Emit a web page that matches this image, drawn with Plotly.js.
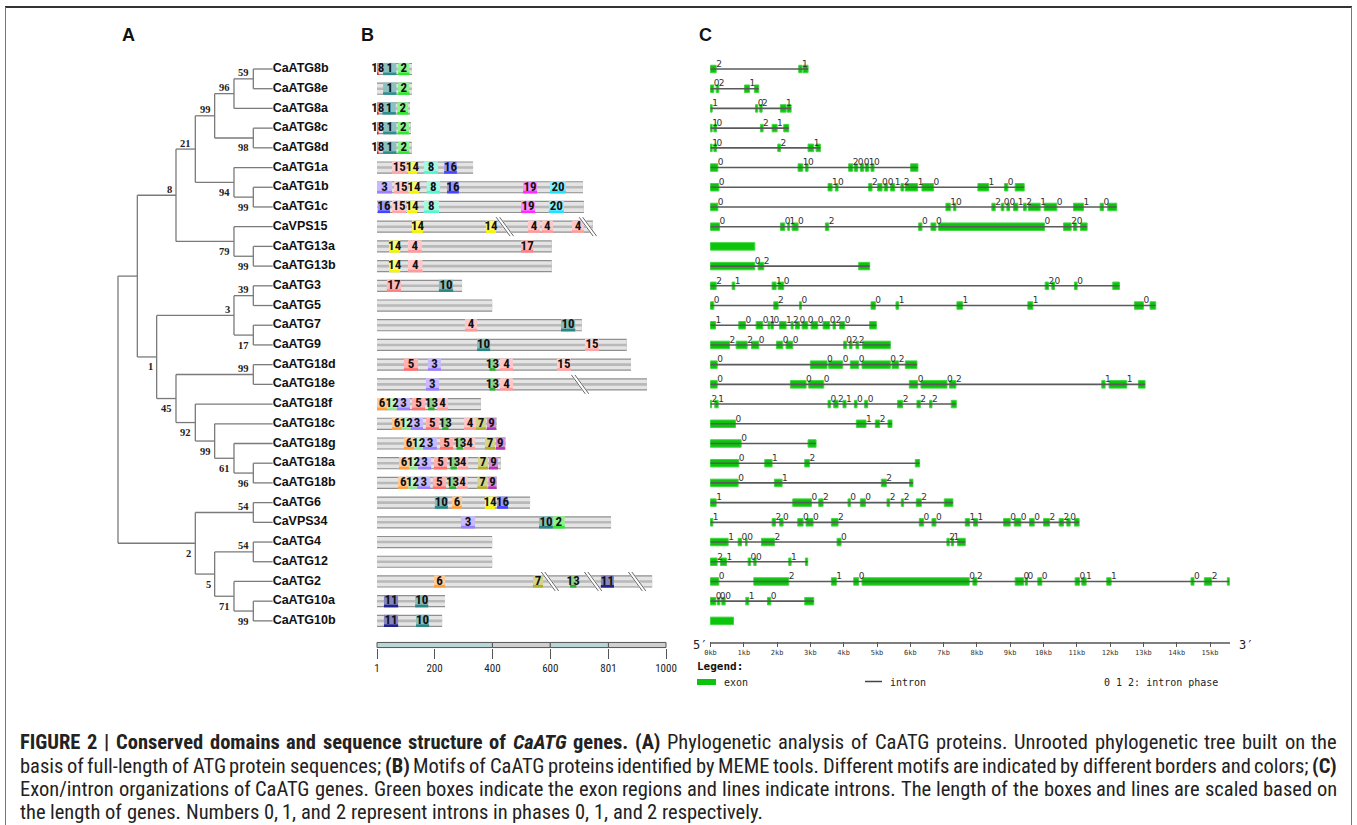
<!DOCTYPE html>
<html><head><meta charset="utf-8">
<script src="https://cdn.plot.ly/plotly-3.0.1.min.js"></script>
<style>html,body{margin:0;padding:0;background:#fff;}#chart{width:1357px;height:825px;}</style>
</head><body><div id="chart"></div>
<script>
// ---------------- data ----------------
const genes = ['CaATG8b','CaATG8e','CaATG8a','CaATG8c','CaATG8d','CaATG1a','CaATG1b','CaATG1c','CaVPS15','CaATG13a','CaATG13b','CaATG3','CaATG5','CaATG7','CaATG9','CaATG18d','CaATG18e','CaATG18f','CaATG18c','CaATG18g','CaATG18a','CaATG18b','CaATG6','CaVPS34','CaATG4','CaATG12','CaATG2','CaATG10a','CaATG10b'];

// tree (cladogram): internal nodes, bottom-up
const nodeIds = ['n59','n96','n98','n99a','n99b','n94','n21','n99c','n79','n8','n39','n17','n3','n99d','n96b','n61','n99e','n92','n45','n1','nA','n54a','n54b','n99f','n71','n5','n2','root'];
const nodeChildren = [['CaATG8b','CaATG8e'],['n59','CaATG8a'],['CaATG8c','CaATG8d'],['n96','n98'],['CaATG1b','CaATG1c'],['CaATG1a','n99b'],['n99a','n94'],['CaATG13a','CaATG13b'],['CaVPS15','n99c'],['n21','n79'],['CaATG3','CaATG5'],['CaATG7','CaATG9'],['n39','n17'],['CaATG18d','CaATG18e'],['CaATG18a','CaATG18b'],['CaATG18g','n96b'],['CaATG18c','n61'],['CaATG18f','n99e'],['n99d','n92'],['n3','n45'],['n8','n1'],['CaATG6','CaVPS34'],['CaATG4','CaATG12'],['CaATG10a','CaATG10b'],['CaATG2','n99f'],['n54b','n71'],['n54a','n5'],['nA','n2']];
const nodeLevel = [7,6,7,5,7,6,4,7,6,3,7,7,6,7,7,6,5,4,3,2,1,7,7,7,6,5,4,0];
const nodeSupport = ['59','96','98','99','99','94','21','99','79','8','39','17','3','99','96','61','99','92','45','1','','54','54','99','71','5','2',''];
const leafLevel = 8;

// motifs (B): protein lengths (aa), breaks, motifs [id,start,end]
const proteinLength = [122,122,115,118,121,333,713,716,747,605,605,295,399,709,864,879,934,360,415,446,429,415,530,810,399,399,952,236,226];
const proteinBreaks = [[],[],[],[],[],[],[],[],[443,730],[],[],[],[],[],[],[],[703],[],[],[],[],[],[],[],[],[],[599,748,900],[],[]];
const motifsByGene = [
 [[18,1,6],[1,22,68],[2,74,113]],
 [[1,22,68],[2,74,113]],
 [[18,1,6],[1,20,66],[2,71,109]],
 [[18,1,6],[1,22,68],[2,73,111]],
 [[18,1,6],[1,22,68],[2,74,113]],
 [[15,53,103],[14,108,139],[8,163,212],[16,233,277]],
 [[3,1,53],[15,60,108],[14,111,146],[8,173,219],[16,243,284],[19,506,554],[20,599,654]],
 [[16,4,46],[15,53,101],[14,105,139],[8,163,215],[19,499,547],[20,595,647]],
 [[14,122,160],[14,378,412],[4,523,564],[4,571,609],[4,675,716]],
 [[14,43,81],[4,108,156],[17,499,541]],
 [[14,43,81],[4,108,158]],
 [[17,35,84],[10,215,264]],
 [],
 [[4,305,347],[10,637,686]],
 [[10,347,392],[15,720,768]],
 [[5,94,143],[3,177,222],[13,390,410],[4,426,471],[15,623,671]],
 [[3,170,215],[13,390,410],[4,426,471]],
 [[6,1,36],[12,39,68],[3,70,115],[5,122,167],[13,178,200],[4,209,246]],
 [[6,53,87],[12,88,116],[3,118,160],[5,170,215],[13,226,248],[4,302,343],[7,343,378],[9,381,412]],
 [[6,94,129],[12,132,158],[3,160,208],[5,219,264],[13,276,298],[4,302,340],[7,374,409],[9,412,443]],
 [[6,77,112],[12,113,141],[3,143,188],[5,198,243],[13,255,277],[4,281,316],[7,350,385],[9,388,419]],
 [[6,74,109],[12,110,138],[3,140,185],[5,194,239],[13,250,274],[4,279,314],[7,348,383],[9,386,414]],
 [[10,201,246],[6,260,295],[14,374,409],[16,416,454]],
 [[3,291,340],[10,561,609],[2,609,650]],
 [],
 [],
 [[6,198,236],[7,540,575],[13,668,690],[11,775,820]],
 [[11,25,74],[10,133,178]],
 [[11,25,74],[10,136,181]]
];
const motifIds    = [1,2,3,4,5,6,7,8,9,10,11,12,13,14,15,16,17,18,19,20];
const motifColors = ['#2e8e8e','#2ee82e','#9d80ff','#ff9a9a','#ff7070','#ffa040','#b0b02c','#55f5cf','#b733b7','#2a8585','#22228c','#8ee88e','#30ad30','#f5f500','#ffa5a5','#4545ff','#ff8080','#ff1010','#ff2cff','#1fe2ff'];
const scaleTicks = [1,200,400,600,801,1000];
const scaleSegStart = [1,400,600,801];
const scaleSegEnd = [400,600,801,1000];
const scaleSegColor = ['#b9d6d6','#cfcfcf','#b9d6d6','#cfcfcf'];

// gene structure (C): exons [start,end] in kb, intron phases
const exonsByGene = [
 [[0,0.17],[2.65,2.75],[2.78,2.93]],
 [[0,0.10],[0.17,0.25],[1.02,1.17],[1.32,1.45]],
 [[0,0.05],[1.35,1.42],[1.48,1.55],[2.10,2.27],[2.30,2.42]],
 [[0,0.05],[0.10,0.18],[1.50,1.58],[1.85,2.00],[2.20,2.35]],
 [[0,0.05],[0.10,0.18],[2.02,2.10],[2.93,3.10],[3.17,3.30]],
 [[0,0.22],[2.63,2.77],[2.85,2.93],[4.15,4.27],[4.32,4.42],[4.50,4.60],[4.65,4.75],[4.82,4.91],[6.01,6.23]],
 [[0,0.25],[3.53,3.65],[3.75,3.83],[4.75,4.85],[5.02,5.15],[5.22,5.32],[5.41,5.53],[5.72,5.80],[5.85,6.22],[6.35,6.70],[8.03,8.35],[8.83,8.93],[9.15,9.42]],
 [[0,0.22],[7.07,7.20],[7.30,7.37],[8.45,8.55],[8.73,8.81],[8.90,8.98],[9.10,9.23],[9.40,9.48],[9.55,9.90],[10.02,10.40],[10.90,11.20],[11.70,11.80],[11.93,12.20]],
 [[0,0.27],[2.10,2.23],[2.32,2.37],[2.45,2.63],[3.45,3.55],[6.25,6.35],[6.62,6.77],[6.85,10.03],[10.60,10.83],[10.90,11.00],[11.11,11.31]],
 [[0,1.33]],
 [[0,1.33],[1.43,1.60],[4.45,4.78]],
 [[0,0.17],[0.65,0.73],[1.85,1.97],[2.03,2.20],[10.05,10.15],[10.25,10.33],[10.93,11.01],[12.08,12.28]],
 [[0,0.10],[1.90,2.03],[2.67,2.73],[4.82,4.95],[5.57,5.65],[7.40,7.57],[9.53,9.68],[12.73,13.00],[13.20,13.37]],
 [[0,0.15],[0.85,1.05],[1.37,1.57],[1.73,1.77],[1.81,1.89],[2.07,2.27],[2.42,2.48],[2.55,2.67],[2.75,2.92],[3.02,3.22],[3.38,3.58],[3.68,3.75],[3.88,4.03],[4.78,4.98]],
 [[0,0.57],[0.77,1.10],[1.23,1.45],[1.98,2.17],[2.27,2.47],[4.00,4.08],[4.17,4.25],[4.37,4.45],[4.57,5.40]],
 [[0,0.20],[3.00,3.50],[3.55,3.97],[4.20,4.45],[4.55,5.40],[5.45,5.65],[5.85,6.20]],
 [[0,0.20],[2.40,2.87],[2.95,3.40],[5.97,6.22],[6.32,7.10],[7.18,7.37],[11.75,11.85],[11.97,12.50],[12.85,13.05]],
 [[0,0.03],[0.13,0.23],[3.53,3.60],[3.70,3.83],[3.98,4.07],[4.32,4.40],[4.63,4.72],[5.62,5.77],[6.20,6.30],[6.58,6.65],[7.23,7.38]],
 [[0,0.75],[4.38,4.67],[4.95,5.08],[5.33,5.45]],
 [[0,0.92],[2.93,3.17]],
 [[0,0.85],[1.63,1.85],[2.83,2.97],[6.15,6.28]],
 [[0,0.83],[1.92,2.15],[5.13,5.28],[5.98,6.08]],
 [[0,0.17],[2.47,3.03],[3.25,3.38],[4.13,4.20],[4.50,4.65],[5.30,5.38],[5.73,5.80],[6.18,6.33],[7.02,7.28]],
 [[0,0.07],[1.85,1.95],[2.08,2.18],[2.62,2.78],[2.87,3.08],[3.63,3.83],[6.27,6.40],[6.65,6.77],[7.65,7.78],[7.90,8.02],[8.80,9.00],[9.12,9.32],[9.58,9.72],[10.00,10.18],[10.47,10.60],[10.70,10.80],[10.93,11.07]],
 [[0,0.53],[0.83,0.93],[1.05,1.10],[1.53,1.92],[3.80,3.92],[7.10,7.17],[7.23,7.30],[7.42,7.65]],
 [[0,0.20],[0.30,0.48],[1.13,1.20],[1.30,1.37],[2.35,2.42],[2.85,2.92]],
 [[0,0.25],[1.30,2.35],[3.63,3.78],[4.30,4.45],[4.55,7.77],[7.88,8.00],[9.15,9.40],[9.45,9.52],[9.83,9.95],[10.95,11.08],[11.15,11.28],[11.90,12.03],[14.43,14.52],[14.83,15.05],[15.52,15.58]],
 [[0,0.16],[0.21,0.28],[0.34,0.44],[1.06,1.15],[1.71,1.81],[2.83,3.10]],
 [[0,0.69]]
];
const phasesByGene = [
 [2,1],[0,2,1],[1,0,2,1],[1,0,2,1],[1,0,2,1],
 [0,1,0,2,0,0,1,0],
 [0,1,0,2,0,0,1,2,1,0,1,0],
 [0,1,0,2,0,0,1,2,1,0,1,0],
 [0,0,1,0,2,0,0,0,2,0],
 [],[0,2],
 [2,1,1,0,2,0,0],
 [0,2,0,0,1,1,1,0],
 [1,0,0,1,0,1,2,0,0,0,0,2,0],
 [2,2,0,0,0,0,2,2],
 [0,0,0,0,0,2],
 [0,0,0,0,0,2,1,1],
 [2,1,0,2,1,0,0,2,2,2],
 [0,1,2],[0],[0,1,2],[0,1,2],
 [1,0,2,0,0,2,2,2],
 [1,2,0,0,0,2,0,0,1,1,0,0,0,2,2,0],
 [1,0,0,2,0,2,1],
 [2,1,0,0,1],
 [0,2,1,0,0,2,0,0,0,0,1,1,0,2],
 [0,0,0,1,0],
 []
];
const kbTicks = [0,1,2,3,4,5,6,7,8,9,10,11,12,13,14,15];
const kbAxisEnd = 15.6;

// caption: lines of [text, style] segments (b = bold, i = italic)
const captionLines = [
 [['FIGURE 2 | Conserved domains and sequence structure of', 'b'], ['CaATG', 'bi'], ['genes. (A)', 'b'], ['Phylogenetic analysis of CaATG proteins. Unrooted phylogenetic tree built on the', '']],
 [['basis of full-length of ATG protein sequences;', ''], ['(B)', 'b'], ['Motifs of CaATG proteins identified by MEME tools. Different motifs are indicated by different borders and colors;', ''], ['(C)', 'b']],
 [['Exon/intron organizations of CaATG genes. Green boxes indicate the exon regions and lines indicate introns. The length of the boxes and lines are scaled based on', '']],
 [['the length of genes. Numbers 0, 1, and 2 represent introns in phases 0, 1, and 2 respectively.', '']]
];

// ---------------- layout helpers ----------------
const W = 1357, H = 825;
const px = v => v / W, py = v => 1 - v / H;
const ROW0 = 69, ROWH = 19.71;
const yRange = [(H - ROW0) / ROWH, -ROW0 / ROWH];
const rowAt = p => (p - ROW0) / ROWH;
const treeRange = [-118 / 19.33, (W - 118) / 19.33];
const aaRange = [1 - 377 / 0.2893, 1 + (W - 377) / 0.2893];
const kbRange = [-710.5 / 33.3, (W - 710.5) / 33.3];

function tint(hex, f) {
  const c = [1, 3, 5].map(i => parseInt(hex.slice(i, i + 2), 16));
  const m = c.map(v => Math.round(v + (255 - v) * f));
  return 'rgb(' + m.join(',') + ')';
}
const colorOf = id => motifColors[motifIds.indexOf(id)];

const traces = [];
const annotations = [];
const shapes = [];

// ---------------- A: tree ----------------
const pos = {};
genes.forEach((g, i) => pos[g] = {x: leafLevel, y: i});
nodeIds.forEach((id, k) => {
  const ys = nodeChildren[k].map(c => pos[c].y);
  pos[id] = {x: nodeLevel[k], y: (ys[0] + ys[ys.length - 1]) / 2};
});
const tx = [], ty = [];
nodeIds.forEach((id, k) => {
  const ch = nodeChildren[k];
  const p = pos[id];
  tx.push(p.x, p.x, null); ty.push(pos[ch[0]].y, pos[ch[ch.length - 1]].y, null);
  ch.forEach(c => { tx.push(p.x, pos[c].x, null); ty.push(pos[c].y, pos[c].y, null); });
});
traces.push({type: 'scatter', mode: 'lines', x: tx, y: ty, xaxis: 'x', yaxis: 'y',
  line: {color: '#7a7a7a', width: 1.3}, hoverinfo: 'skip'});
traces.push({type: 'scatter', mode: 'text', x: genes.map(() => leafLevel), y: genes.map((g, i) => i),
  text: genes.map(g => '<b>' + g + '</b>'), textposition: 'middle right',
  textfont: {family: 'Liberation Sans, Arial, sans-serif', size: 12.5, color: '#111'},
  xaxis: 'x', yaxis: 'y', hoverinfo: 'skip'});
nodeIds.forEach((id, k) => {
  if (!nodeSupport[k]) return;
  const parentIdx = nodeChildren.findIndex(ch => ch.includes(id));
  const upper = parentIdx >= 0 && nodeChildren[parentIdx][0] === id;
  annotations.push({x: pos[id].x, y: pos[id].y, xref: 'x', yref: 'y', text: '<b>' + nodeSupport[k] + '</b>',
    showarrow: false, xanchor: 'right', yanchor: 'middle', xshift: -2, yshift: upper ? 6 : -10,
    font: {family: 'Liberation Serif, Times New Roman, serif', size: 10.5, color: '#222'}});
});

// ---------------- B: motifs ----------------
const rows = genes.map((g, i) => i);
const protBar = (w, col) => ({type: 'bar', orientation: 'h', y: rows, base: rows.map(() => 1),
  x: proteinLength.map(L => L - 1), width: w, marker: {color: col, line: {width: 0}},
  xaxis: 'x2', yaxis: 'y', hoverinfo: 'skip'});
traces.push(protBar(0.62, '#8f8f8f'));
traces.push(protBar(0.50, '#e4e4e4'));
traces.push(protBar(0.13, '#b9b9b9'));

const mY = [], mB = [], mX = [], mC = [], mS = [], mT = [], mTx = [];
motifsByGene.forEach((list, i) => list.forEach(([id, s, e]) => {
  mY.push(i); mB.push(s); mX.push(e - s); mC.push(tint(colorOf(id), 0.45)); mS.push(colorOf(id));
  mT.push('<b>' + id + '</b>'); mTx.push((s + e) / 2);
}));
traces.push({type: 'bar', orientation: 'h', y: mY, base: mB, x: mX, width: 0.62,
  marker: {color: mC, line: {width: 0}}, xaxis: 'x2', yaxis: 'y', hoverinfo: 'skip'});
traces.push({type: 'bar', orientation: 'h', y: mY, base: mB, x: mX, width: 0.13, offset: 0.18,
  marker: {color: mS, line: {width: 0}}, xaxis: 'x2', yaxis: 'y', hoverinfo: 'skip'});
traces.push({type: 'scatter', mode: 'text', x: mTx, y: mY, text: mT, textposition: 'middle center',
  textfont: {family: 'Liberation Sans Narrow, Arial Narrow, Roboto Condensed, Liberation Sans, sans-serif', size: 13, color: '#111'},
  xaxis: 'x2', yaxis: 'y', hoverinfo: 'skip'});
const bwx = [], bwy = [], bgx = [], bgy = [];
proteinBreaks.forEach((list, i) => list.forEach(b => {
  bwx.push(b - 24, b + 24, null); bwy.push(i - 0.48, i + 0.48, null);
  [-6, 6].forEach(o => { bgx.push(b - 24 + o, b + 24 + o, null); bgy.push(i - 0.48, i + 0.48, null); });
}));
traces.push({type: 'scatter', mode: 'lines', x: bwx, y: bwy, line: {color: '#ffffff', width: 4},
  xaxis: 'x2', yaxis: 'y', hoverinfo: 'skip'});
traces.push({type: 'scatter', mode: 'lines', x: bgx, y: bgy, line: {color: '#666', width: 1},
  xaxis: 'x2', yaxis: 'y', hoverinfo: 'skip'});
const scaleRow = rowAt(645);
traces.push({type: 'bar', orientation: 'h', y: scaleSegStart.map(() => scaleRow), base: scaleSegStart,
  x: scaleSegEnd.map((e, k) => e - scaleSegStart[k]), width: 0.26,
  marker: {color: scaleSegColor, line: {color: '#555', width: 1}}, xaxis: 'x2', yaxis: 'y', hoverinfo: 'skip'});

// ---------------- C: gene structure ----------------
const ix = [], iy = [];
exonsByGene.forEach((ex, i) => { if (ex.length > 1) { ix.push(ex[0][0], ex[ex.length - 1][1], null); iy.push(i, i, null); } });
traces.push({type: 'scatter', mode: 'lines', x: ix, y: iy, line: {color: '#5a5a5a', width: 1.6},
  xaxis: 'x3', yaxis: 'y', hoverinfo: 'skip'});
const eY = [], eB = [], eX = [];
exonsByGene.forEach((ex, i) => ex.forEach(([s, e]) => { eY.push(i); eB.push(s); eX.push(e - s); }));
traces.push({type: 'bar', orientation: 'h', y: eY, base: eB, x: eX, width: 0.38,
  marker: {color: '#0cc40c', line: {color: '#3fd63f', width: 1}}, xaxis: 'x3', yaxis: 'y', hoverinfo: 'skip'});
const pX = [], pY = [], pT = [];
phasesByGene.forEach((ph, i) => ph.forEach((v, k) => { pX.push(exonsByGene[i][k][1]); pY.push(i); pT.push('' + v); }));
traces.push({type: 'scatter', mode: 'text', x: pX, y: pY, text: pT, textposition: 'top right',
  textfont: {family: 'DejaVu Sans, Verdana, sans-serif', size: 9, color: '#333'},
  xaxis: 'x3', yaxis: 'y', hoverinfo: 'skip'});
const kbRow = rowAt(643);
traces.push({type: 'scatter', mode: 'lines', x: [0, kbAxisEnd], y: [kbRow, kbRow], line: {color: '#555', width: 1.5},
  xaxis: 'x3', yaxis: 'y', hoverinfo: 'skip'});

// ---------------- annotations: letters, legend ----------------
const ann = (x, y, text, font, xanchor) => annotations.push({x: px(x), y: py(y), xref: 'paper', yref: 'paper',
  text, showarrow: false, xanchor: xanchor || 'left', yanchor: 'middle', font});
const letterFont = {family: 'Liberation Sans, Arial, sans-serif', size: 18, color: '#111'};
ann(120, 35, '<b>A</b>', letterFont);
ann(359, 35, '<b>B</b>', letterFont);
ann(697, 35, '<b>C</b>', letterFont);
const monoFont = {family: 'DejaVu Sans Mono, Liberation Mono, monospace', size: 10, color: '#222'};
ann(691, 645, '5′', {family: 'DejaVu Sans Mono, monospace', size: 12, color: '#222'});
ann(1237, 645, '3′', {family: 'DejaVu Sans Mono, monospace', size: 12, color: '#222'});
ann(695, 666, '<b>Legend:</b>', {family: 'DejaVu Sans Mono, monospace', size: 11, color: '#111'});
ann(722, 682, 'exon', monoFont);
ann(888, 682, 'intron', monoFont);
ann(1102, 682, '0 1 2: intron phase', monoFont);
shapes.push({type: 'rect', xref: 'paper', yref: 'paper', x0: px(697), x1: px(716), y0: py(685), y1: py(679),
  fillcolor: '#0cc40c', line: {width: 0}});
shapes.push({type: 'line', xref: 'paper', yref: 'paper', x0: px(865), x1: px(882), y0: py(681.5), y1: py(681.5),
  line: {color: '#444', width: 1.5}});
shapes.push({type: 'line', xref: 'paper', yref: 'paper', x0: px(5), x1: px(1352), y0: py(7), y1: py(7), line: {color: '#333', width: 2}});
shapes.push({type: 'line', xref: 'paper', yref: 'paper', x0: px(5.5), x1: px(5.5), y0: py(7), y1: py(830), line: {color: '#777', width: 1}});
shapes.push({type: 'line', xref: 'paper', yref: 'paper', x0: px(1351.5), x1: px(1351.5), y0: py(7), y1: py(830), line: {color: '#777', width: 1}});

// ---------------- caption (justified) ----------------
const CAP_FAMILY = 'Liberation Sans Narrow, Arial Narrow, Roboto Condensed, Liberation Sans, sans-serif';
const CAP_SIZE = 20.5, CAP_LEFT = 20, CAP_RIGHT = 1337;
const capY = [742, 766, 789, 812];
const mctx = document.createElement('canvas').getContext('2d');
const canvasFamily = CAP_FAMILY.split(',').map(f => { f = f.trim(); return f.includes(' ') ? '"' + f + '"' : f; }).join(', ');
function measure(word, style) {
  mctx.font = (style.includes('i') ? 'italic ' : '') + (style.includes('b') ? 'bold ' : '') + CAP_SIZE + 'px ' + canvasFamily;
  return mctx.measureText(word).width;
}
function wrapStyle(word, style) {
  let t = word;
  if (style.includes('i')) t = '<i>' + t + '</i>';
  if (style.includes('b')) t = '<b>' + t + '</b>';
  return t;
}
captionLines.forEach((segs, li) => {
  const words = [];
  segs.forEach(([text, style]) => text.split(' ').filter(w => w.length).forEach(w => words.push({w, style})));
  const widths = words.map(o => measure(o.w, o.style));
  const total = widths.reduce((a, b) => a + b, 0);
  const last = li === captionLines.length - 1;
  const gap = last ? measure(' ', '') : (CAP_RIGHT - CAP_LEFT - total) / (words.length - 1);
  let x = CAP_LEFT;
  words.forEach((o, k) => {
    annotations.push({x: px(x), y: py(capY[li]), xref: 'paper', yref: 'paper', text: wrapStyle(o.w, o.style),
      showarrow: false, xanchor: 'left', yanchor: 'middle', borderpad: 0, borderwidth: 0,
      font: {family: CAP_FAMILY, size: CAP_SIZE, color: '#222'}});
    x += widths[k] + gap;
  });
});

// ---------------- layout ----------------
const hidden = {showgrid: false, zeroline: false, showticklabels: false, showline: false, ticks: '', fixedrange: true};
const layout = {
  width: W, height: H, margin: {l: 0, r: 0, t: 0, b: 0, pad: 0},
  paper_bgcolor: '#ffffff', plot_bgcolor: 'rgba(0,0,0,0)', showlegend: false, barmode: 'overlay',
  hovermode: false,
  xaxis: Object.assign({}, hidden, {domain: [0, 1], range: treeRange}),
  yaxis: Object.assign({}, hidden, {domain: [0, 1], range: yRange}),
  xaxis2: {overlaying: 'x', anchor: 'free', position: 1 - 647.5 / H, side: 'bottom', range: aaRange,
    showgrid: false, zeroline: false, showline: false, tickmode: 'array', tickvals: scaleTicks,
    ticktext: scaleTicks.map(String), ticks: 'outside', ticklen: 10, tickwidth: 1, tickcolor: '#555',
    tickfont: {family: 'Liberation Sans Narrow, Arial Narrow, Roboto Condensed, Liberation Sans, sans-serif', size: 11, color: '#222'}, fixedrange: true},
  xaxis3: {overlaying: 'x', anchor: 'free', position: 1 - 641 / H, side: 'bottom', range: kbRange,
    showgrid: false, zeroline: false, showline: false, tickmode: 'array', tickvals: kbTicks,
    ticktext: kbTicks.map(v => v + 'kb'), ticks: 'outside', ticklen: 5, tickwidth: 1, tickcolor: '#555',
    tickfont: {family: 'DejaVu Sans Mono, monospace', size: 7, color: '#333'}, fixedrange: true},
  annotations, shapes
};
Plotly.newPlot('chart', traces, layout, {staticPlot: true, displayModeBar: false});
</script></body></html>
